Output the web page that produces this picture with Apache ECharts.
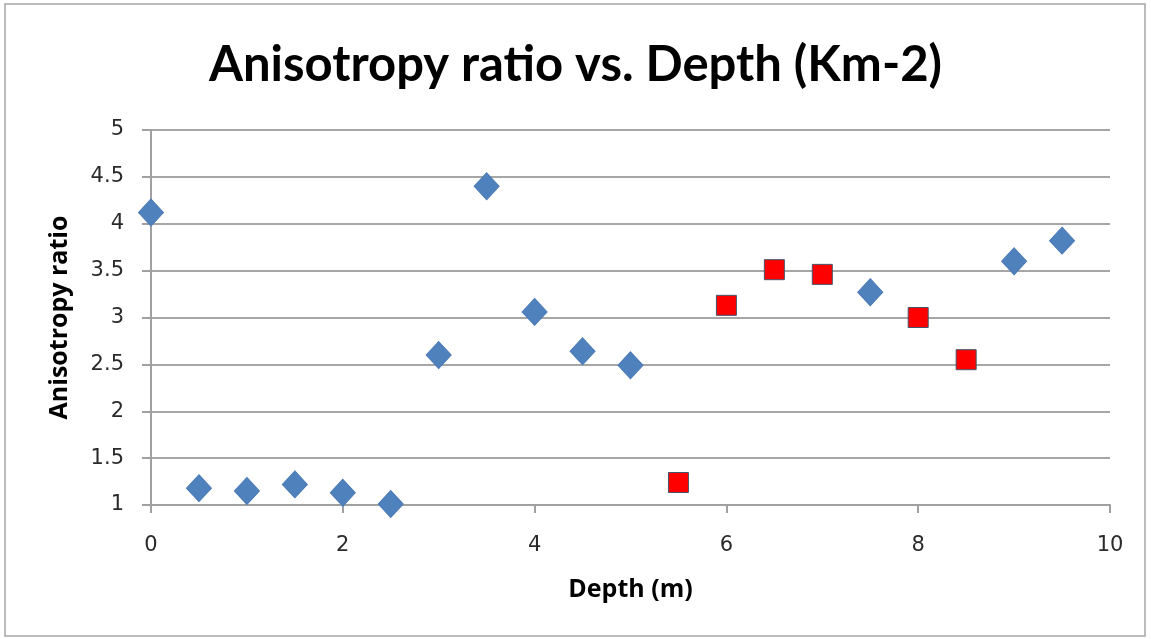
<!DOCTYPE html>
<html>
<head>
<meta charset="utf-8">
<script src="https://cdn.jsdelivr.net/npm/echarts@6/dist/echarts.min.js"></script>
<style>
  html, body { margin: 0; padding: 0; background: #fff; }
  #chart { width: 1151px; height: 639px; }
</style>
</head>
<body>
<div id="chart"></div>
<script>
// Depth (m) and anisotropy ratio, split into the two marker groups
const blueDepth = [0, 0.5, 1, 1.5, 2, 2.5, 3, 3.5, 4, 4.5, 5, 7.5, 9, 9.5];
const blueRatio = [4.12, 1.18, 1.15, 1.22, 1.13, 1.01, 2.6, 4.4, 3.06, 2.64, 2.49, 3.27, 3.6, 3.82];
const redDepth = [5.5, 6, 6.5, 7, 8, 8.5];
const redRatio = [1.24, 3.13, 3.51, 3.46, 3.0, 2.55];

const pairs = (xs, ys) => xs.map((x, i) => [x, ys[i]]);

const TITLE_FONT = 'Lato, "Open Sans", sans-serif';
const NAME_FONT = '"Open Sans", Lato, sans-serif';
const TICK_FONT = '"DejaVu Sans", "Open Sans", sans-serif';
const chart = echarts.init(document.getElementById('chart'), null, { renderer: 'canvas' });

chart.setOption({
  backgroundColor: '#fff',
  animation: false,
  title: {
    text: 'Anisotropy ratio vs. Depth (Km-2)',
    left: 'center',
    top: 36,
    textStyle: { fontFamily: TITLE_FONT, fontSize: 49, fontWeight: 'bold', color: '#000' }
  },
  graphic: [{
    type: 'rect',
    shape: { x: 5, y: 4, width: 1140, height: 632 },
    style: { fill: 'none', stroke: '#a6a6a6', lineWidth: 1.5 },
    silent: true
  }],
  grid: { left: 151, right: 41, top: 130, bottom: 134 },
  xAxis: {
    type: 'value',
    min: 0, max: 10, interval: 2,
    name: 'Depth (m)',
    nameLocation: 'middle',
    nameGap: 72,
    nameTextStyle: { fontFamily: NAME_FONT, fontSize: 25, fontWeight: 'bold', color: '#000' },
    axisLine: { show: true, lineStyle: { color: '#a0a0a0', width: 2 } },
    axisTick: { show: true, length: 8, lineStyle: { color: '#a0a0a0', width: 2 } },
    axisLabel: { fontFamily: TICK_FONT, fontSize: 21, color: '#2a2a2a', margin: 30 },
    splitLine: { show: false }
  },
  yAxis: {
    type: 'value',
    min: 1, max: 5, interval: 0.5,
    name: 'Anisotropy ratio',
    nameLocation: 'middle',
    nameGap: 79,
    nameTextStyle: { fontFamily: NAME_FONT, fontSize: 25, fontWeight: 'bold', color: '#000' },
    axisLine: { show: true, onZero: false, lineStyle: { color: '#a0a0a0', width: 2 } },
    axisTick: { show: true, length: 9, lineStyle: { color: '#a0a0a0', width: 2 } },
    axisLabel: { fontFamily: TICK_FONT, fontSize: 21, color: '#2a2a2a', margin: 27 },
    splitLine: { show: true, lineStyle: { color: '#a6a6a6', width: 2 } }
  },
  series: [
    {
      type: 'scatter',
      data: pairs(blueDepth, blueRatio),
      symbol: 'diamond',
      symbolSize: [25, 27],
      itemStyle: { color: '#4f81bd', borderColor: '#4a7ab5', borderWidth: 1, opacity: 1 }
    },
    {
      type: 'scatter',
      data: pairs(redDepth, redRatio),
      symbol: 'rect',
      symbolSize: 20,
      itemStyle: { color: '#ff0000', borderColor: '#44546a', borderWidth: 1, opacity: 1 }
    }
  ]
});
</script>
</body>
</html>
